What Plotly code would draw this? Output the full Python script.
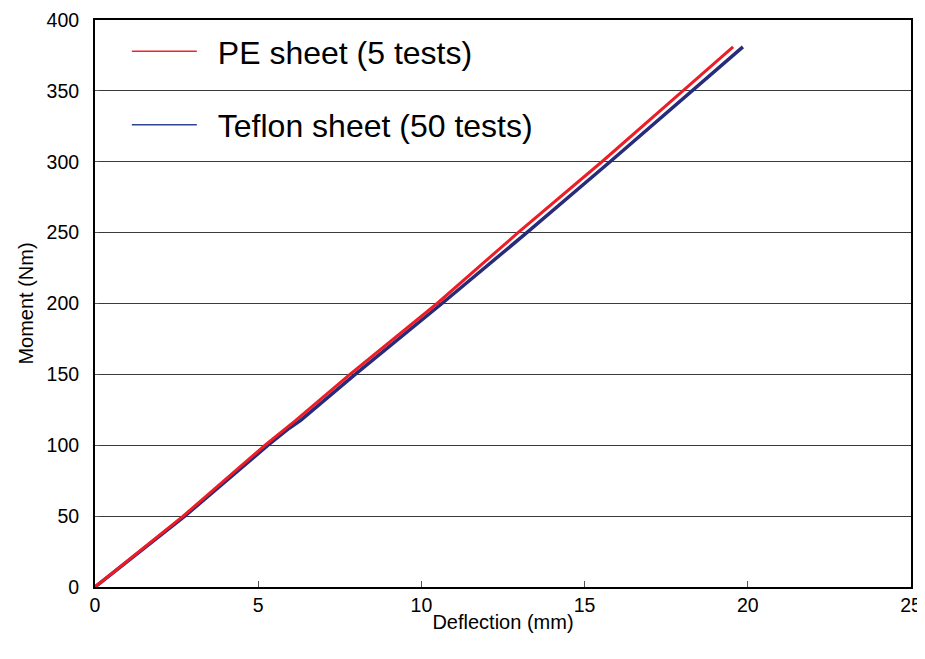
import plotly.graph_objects as go

# PE sheet (5 tests) - red
pe_x = [0, 1.35, 2.70, 5.21, 5.85, 6.15, 7.81, 10.48, 12.96, 15.53, 18.01, 19.55]
pe_y = [0, 25, 50, 100, 112, 117.5, 150, 200, 250, 300, 350, 381]

# Teflon sheet (50 tests) - blue
tf_x = [0, 1.38, 2.75, 5.30, 5.95, 6.3, 7.97, 10.63, 13.23, 15.78, 18.29, 19.85]
tf_y = [0, 25, 50, 100, 112, 117.5, 150, 200, 250, 300, 350, 381]

x_ticks = [0, 5, 10, 15, 20, 25]
y_ticks = [0, 50, 100, 150, 200, 250, 300, 350, 400]

RED = "#ee1c25"
BLUE = "#262b7a"
FONT = "Arial, Liberation Sans, sans-serif"

fig = go.Figure()
fig.add_trace(go.Scatter(x=tf_x, y=tf_y, mode="lines", line=dict(color=BLUE, width=3.5),
                         showlegend=False, hoverinfo="skip"))
fig.add_trace(go.Scatter(x=pe_x, y=pe_y, mode="lines", line=dict(color=RED, width=3),
                         showlegend=False, hoverinfo="skip"))
# legend entries
fig.add_trace(go.Scatter(x=[None], y=[None], mode="lines", name="\u2002PE sheet (5 tests)",
                         line=dict(color="#f0242c", width=1.5), legendgroup="a"))
fig.add_trace(go.Scatter(x=[None], y=[None], mode="lines", name="\u2002Teflon sheet (50 tests)",
                         line=dict(color="#2e4393", width=1.5), legendgroup="b"))

# page body has an 8px default margin, so the figure is sized to fit inside it
fig.update_layout(
    width=917, height=643,
    margin=dict(l=87, r=14, t=12, b=64),
    paper_bgcolor="white", plot_bgcolor="white",
    font=dict(family=FONT, color="black", size=17),
    showlegend=True,
    legend=dict(x=0.039, y=0.993, xanchor="left", yanchor="top",
                font=dict(size=32, family=FONT, color="black"),
                bgcolor="rgba(0,0,0,0)", traceorder="grouped", tracegroupgap=29,
                itemwidth=65),
    xaxis=dict(range=[0, 25], tickvals=x_ticks, ticks="inside", ticklen=6,
               tickcolor="#555", showgrid=False, zeroline=False, automargin=False,
               ticklabeloverflow="allow",
               showline=True, linecolor="black", linewidth=2, mirror=True,
               title=dict(text="Deflection (mm)", font=dict(size=20), standoff=0),
               tickfont=dict(size=19.5)),
    yaxis=dict(range=[0, 400], tickvals=y_ticks, ticks="inside", ticklen=4,
               tickcolor="#555", showgrid=True, gridcolor="#3a3a3a", gridwidth=1,
               zeroline=False, showline=True, linecolor="black", linewidth=2, mirror=True,
               automargin=False, ticklabelstandoff=10, ticklabeloverflow="allow",
               title=dict(text="Moment (Nm)", font=dict(size=20), standoff=8),
               tickfont=dict(size=19.5)),
)

fig.write_html("out.html")
